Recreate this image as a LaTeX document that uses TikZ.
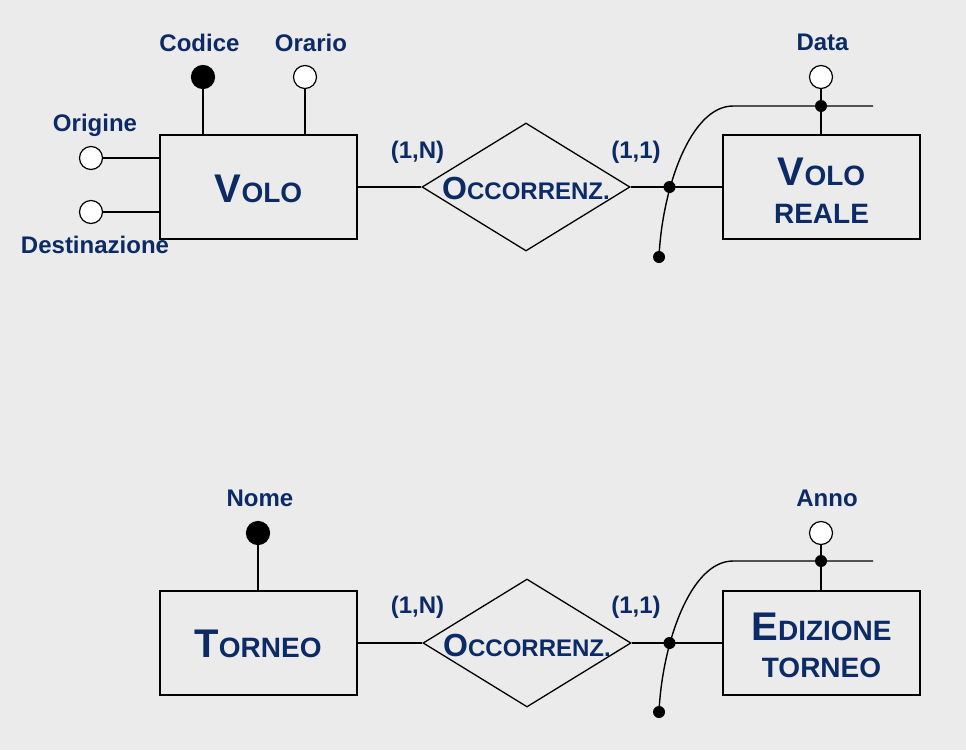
\documentclass[tikz,border=0pt]{standalone}
\usepackage{fontspec}
\setmainfont{Liberation Sans}
\usetikzlibrary{shapes.geometric}
\definecolor{bgc}{HTML}{EBEBEB}
\definecolor{navy}{HTML}{0B2A66}
\newcommand{\capbig}[1]{{\fontsize{40}{40}\selectfont #1}}
\newcommand{\capsml}[1]{{\fontsize{28}{28}\selectfont #1}}
\newcommand{\relbig}[1]{{\fontsize{32}{32}\selectfont #1}}
\newcommand{\relsml}[1]{{\fontsize{24}{24}\selectfont #1}}
\tikzset{
  entity/.style={draw=black, line width=2pt, minimum width=197pt, minimum height=104pt, inner sep=0pt},
  rel/.style={draw=black, line width=1.3pt, shape=diamond, minimum width=208pt, minimum height=128pt, inner sep=0pt},
  attr/.style={draw=black, line width=1.2pt, fill=white, circle, minimum size=23pt, inner sep=0pt},
  key/.style={draw=black, line width=1.2pt, fill=black, circle, minimum size=23pt, inner sep=0pt},
  dot/.style={fill=black, circle, minimum size=12pt, inner sep=0pt},
  lbl/.style={text=navy, font=\bfseries\fontsize{24}{26}\selectfont, anchor=base, inner sep=0pt},
  ename/.style={text=navy, font=\bfseries, anchor=base, inner sep=0pt},
  conn/.style={draw=black, line width=1.4pt}
}
\begin{document}
\begin{tikzpicture}[x=1pt,y=-1pt]
\fill[bgc] (0,0) rectangle (966,750);
\useasboundingbox (0,0) rectangle (966,750);

% ===== top =====
\node[entity] (volo) at (258.5,187) {};
\node[ename] (volot) at (258.5,202) {\capbig{V}\capsml{OLO}};
\node[rel] (occ1) at (526,187) {};
\node[ename] (occ1t) at (526,199) {\relbig{O}\relsml{CCORRENZ.}};
\node[entity] (vr) at (821.5,187) {};
\node[ename] (vrt1) at (821.5,185) {\capbig{V}\capsml{OLO}};
\node[ename] (vrt2) at (821.5,223) {\capsml{REALE}};

\node[key] (codice) at (203,77) {};
\node[attr] (orario) at (305,77) {};
\node[attr] (origine) at (91,158) {};
\node[attr] (dest) at (91,212) {};
\node[attr] (data) at (821,77) {};

\node[lbl] (codicel) at (199.5,51) {Codice};
\node[lbl] (orariol) at (311,51) {Orario};
\node[lbl] (originel) at (95,131) {Origine};
\node[lbl] (destl) at (95,253) {Destinazione};
\node[lbl] (datal) at (822.5,50) {Data};
\node[lbl] (c1n) at (417.5,158) {(1,N)};
\node[lbl] (c11) at (636,158) {(1,1)};

\coordinate (codiceb) at (203,135);
\coordinate (orariob) at (305,135);
\coordinate (origineb) at (160,158);
\coordinate (destb) at (160,212);
\coordinate (datab) at (821,135);
\coordinate (hend1) at (873,106);
\coordinate (ctop1) at (733,106);

\draw[conn] (codice) -- (codiceb);
\draw[conn] (orario) -- (orariob);
\draw[conn] (origine) -- (origineb);
\draw[conn] (dest) -- (destb);
\draw[conn] (volo.east) -- (occ1.west);
\draw[conn] (occ1.east) -- (vr.west);
\draw[conn] (data) -- (datab);

\node[dot] (d1a) at (669.5,187) {};
\node[dot] (d1b) at (659,257) {};
\node[dot] (d1c) at (821,106) {};
\draw[conn] (d1b.center) .. controls (662,190) and (690,106) .. (ctop1) -- (hend1);

% ===== bottom =====
\node[entity] (torneo) at (258,643) {};
\node[ename] (torneot) at (258,657) {\capbig{T}\capsml{ORNEO}};
\node[rel] (occ2) at (527,643) {};
\node[ename] (occ2t) at (527,656) {\relbig{O}\relsml{CCORRENZ.}};
\node[entity] (ed) at (821.5,643) {};
\node[ename] (edt1) at (821.5,640) {\capbig{E}\capsml{DIZIONE}};
\node[ename] (edt2) at (821.5,677) {\capsml{TORNEO}};

\node[key] (nome) at (258,533) {};
\node[attr] (anno) at (821,533) {};
\node[lbl] (nomel) at (260,506) {Nome};
\node[lbl] (annol) at (827,506) {Anno};
\node[lbl] (c2n) at (417.5,613) {(1,N)};
\node[lbl] (c21) at (636,613) {(1,1)};

\coordinate (nomeb) at (258,591);
\coordinate (annob) at (821,591);
\coordinate (hend2) at (873,561);
\coordinate (ctop2) at (733,561);

\draw[conn] (nome) -- (nomeb);
\draw[conn] (torneo.east) -- (occ2.west);
\draw[conn] (occ2.east) -- (ed.west);
\draw[conn] (anno) -- (annob);

\node[dot] (d2a) at (669.5,643) {};
\node[dot] (d2b) at (659,712) {};
\node[dot] (d2c) at (821,561) {};
\draw[conn] (d2b.center) .. controls (662,645) and (690,561) .. (ctop2) -- (hend2);
\end{tikzpicture}
\end{document}
